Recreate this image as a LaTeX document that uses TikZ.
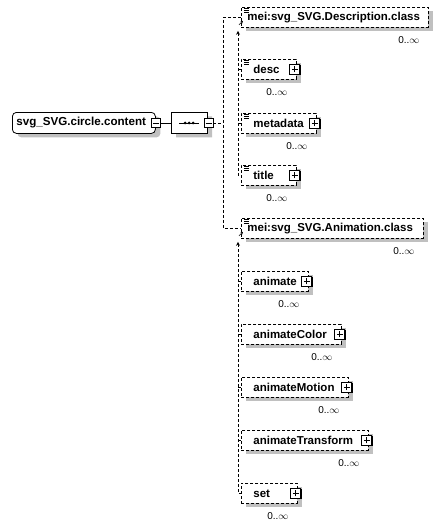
\documentclass[tikz,border=0pt]{standalone}
\usepackage{fontspec}
\setmainfont{Liberation Sans}
\usetikzlibrary{positioning,shapes.misc,shadows,arrows.meta}
\definecolor{shadegray}{RGB}{192,192,192}

\begin{document}
\begin{tikzpicture}[x=1pt, y=-1pt, line width=0.8pt,
    boxshadow/.style={drop shadow={shadow xshift=5pt, shadow yshift=-4pt, fill=shadegray, opacity=1}},
    conn/.style={dash pattern=on 3pt off 2pt},
    elem/.style={draw, conn, fill=white, boxshadow, anchor=north west, minimum height=20pt,
        inner ysep=0pt, align=left, font=\fontsize{11.5}{13}\selectfont\bfseries},
    kid/.style={elem, inner xsep=12pt, text width=#1},
    cls/.style={elem, inner xsep=6pt, text width=#1},
    btn/.style={draw, solid, fill=white, minimum size=10pt, inner sep=0pt,
        drop shadow={shadow xshift=1pt, shadow yshift=-1pt, fill=black, opacity=1}},
    plusbtn/.style={btn, path picture={
        \draw[solid] ([xshift=-3pt]path picture bounding box.center) -- ([xshift=3pt]path picture bounding box.center)
                     ([yshift=-3pt]path picture bounding box.center) -- ([yshift=3pt]path picture bounding box.center);}},
    minusbtn/.style={btn, minimum size=9pt, path picture={
        \draw[solid] ([xshift=-3pt]path picture bounding box.center) -- ([xshift=3pt]path picture bounding box.center);}},
    seqbox/.style={draw, fill=white, boxshadow, chamfered rectangle, chamfered rectangle xsep=5pt,
        chamfered rectangle ysep=5pt, minimum width=36pt, minimum height=21pt, inner sep=0pt},
    occ/.style={inner sep=0pt, font=\fontsize{10}{11}\selectfont}]
    \useasboundingbox (0,0) rectangle (442,528);

    % root and sequence
    \node[elem, solid, rounded corners=4pt, inner xsep=4pt, text width=135pt, minimum height=21pt,
        font=\fontsize{11.6}{13}\selectfont\bfseries] (root) at (12,112) {svg\_SVG.circle.content};
    \node[minusbtn] (rootminus) at (root.east) {};
    \node[seqbox, right=10pt of rootminus] (seq) {};
    \draw ([xshift=-10pt]seq.center) -- ([xshift=10pt]seq.center);
    \foreach \d in {-4,0,4} \fill ([xshift=\d pt]seq.center) circle (1.5);
    \node[minusbtn] (seqminus) at ([xshift=1pt]seq.east) {};
    \coordinate (fork) at ([xshift=10pt]seqminus.east);

    % groups and elements
    \node[cls=175pt] (descclass) at (241,7) {mei:svg\_SVG.Description.class};
    \node[kid=31pt] (desc) at (241,59) {desc};
    \node[kid=51pt] (metadata) at (241,113) {metadata};
    \node[kid=31pt] (title) at (241,165) {title};
    \node[cls=170pt] (animclass) at (241,218) {mei:svg\_SVG.Animation.class};
    \node[kid=43pt] (animate) at (241,271) {animate};
    \node[kid=76pt] (animcolor) at (241,324) {animateColor};
    \node[kid=83pt] (animmotion) at (241,377) {animateMotion};
    \node[kid=103pt] (animtrans) at (241,430) {animateTransform};
    \node[kid=32pt] (setel) at (241,483) {set};

    \foreach \n in {desc,metadata,title,animate,animcolor,animmotion,animtrans,setel}
        \node[plusbtn] (\n plus) at ([xshift=-2pt]\n.east) {};
    \foreach \n in {descclass,desc,metadata,title,animclass,animate,animcolor,animmotion,animtrans,setel}
        \node[occ, below left=8pt and 9pt of \n.south east] (\n occ) {0..\(\infty\)};

    % small icons
    \foreach \n in {descclass,desc,metadata,title,animclass}
        \foreach \d in {0,2,4}
            \draw[line width=0.6pt] ([shift={(3,1+\d)}]\n.north west) -- ++(5,0);
    \foreach \n in {descclass,animclass}
        \draw[line width=0.6pt, -{Stealth[length=2.5pt,width=2.5pt]}] ([shift={(-2,-3)}]\n.south west) -- ++(4,-4);

    % connectors
    \draw (rootminus.east) -- (seq.west);
    \draw[conn] (seqminus.east) -- (fork);
    \draw[conn] (descclass.west) -| (fork) |- (animclass.west);
    \coordinate (dtop) at ([shift={(-3,3)}]descclass.south west);
    \draw[conn, {Stealth[length=4pt,width=4pt]}-] (dtop) |- (title.west);
    \foreach \n in {desc,metadata}
        \draw[conn] (\n.west) -- (\n.west -| dtop);
    \coordinate (atop) at ([shift={(-3,3)}]animclass.south west);
    \draw[conn, {Stealth[length=4pt,width=4pt]}-] (atop) |- (setel.west);
    \foreach \n in {animate,animcolor,animmotion,animtrans}
        \draw[conn] (\n.west) -- (\n.west -| atop);
\end{tikzpicture}
\end{document}
